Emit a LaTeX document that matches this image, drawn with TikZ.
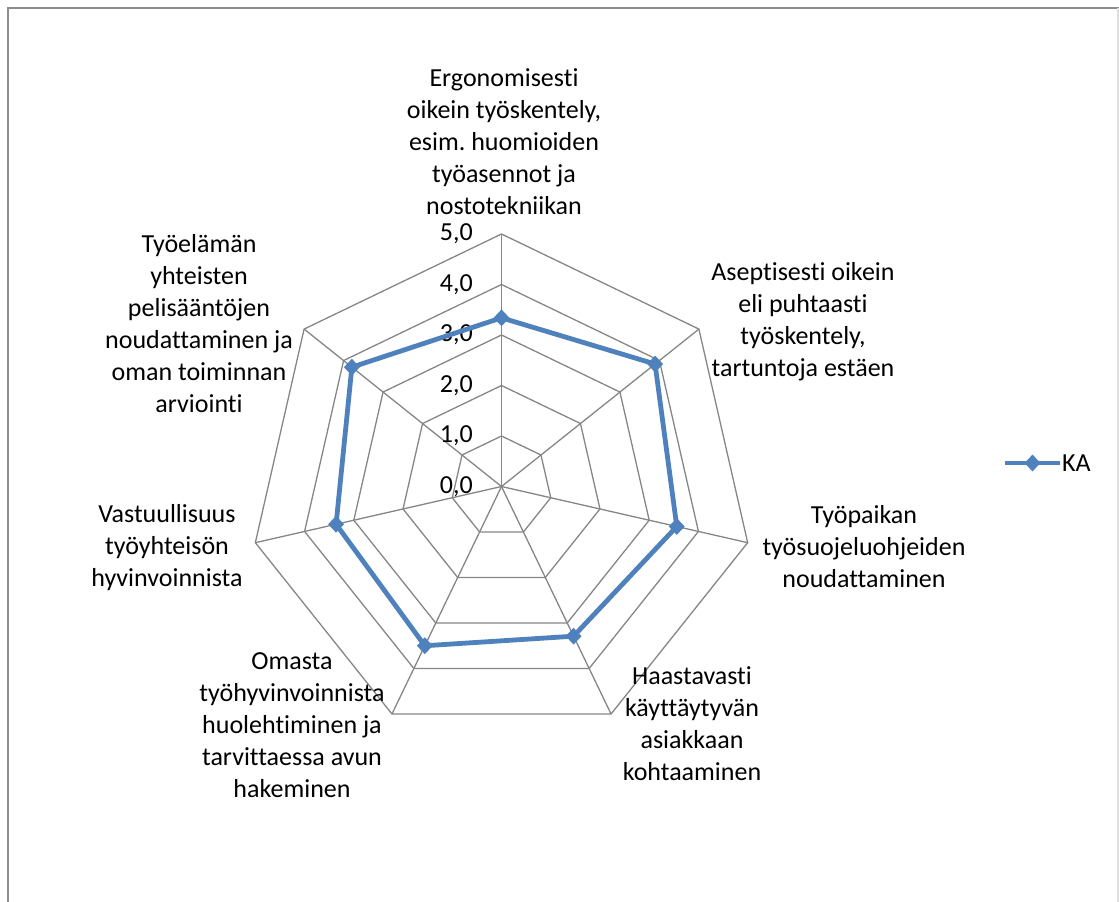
\documentclass[tikz,border=0pt]{standalone}
\usepackage{fontspec}
\setmainfont{Carlito}[Ligatures=NoCommon]
\frenchspacing
\usetikzlibrary{shapes.geometric}
\definecolor{gridgray}{RGB}{134,134,134}
\definecolor{framegray}{RGB}{140,140,140}
\definecolor{serblue}{RGB}{79,129,189}
\tikzset{
  gridline/.style={draw=gridgray, line width=1.3pt},
  serline/.style={draw=serblue, line width=4.8pt, line join=miter},
  lbl/.style={align=center, font=\fontsize{26}{32}\selectfont, inner sep=0pt},
  ticklbl/.style={anchor=east, font=\fontsize{26}{32}\selectfont, inner sep=0pt},
  mk/.style={diamond, fill=serblue, draw=none, inner sep=0pt, minimum width=16pt, minimum height=17pt},
}
\begin{document}
\begin{tikzpicture}[x=1pt,y=1pt]
\useasboundingbox (0,0) rectangle (1119,-902);
% frame
\draw[framegray, line width=2pt] (7.5,-905) -- (7.5,-7.5) -- (1119,-7.5);
\draw[gray!25, line width=1.5pt] (1118,-7.5) -- (1118,-905);
\def\R{50.5}
\coordinate (c) at (501.5,-486.5);
% rings
\foreach \v in {1,...,5}{
  \draw[gridline] ([shift={(c)}]90:{\R*\v})
    \foreach \k in {1,...,6}{ -- ([shift={(c)}]{90-360/7*\k}:{\R*\v}) } -- cycle;
}
% spokes
\foreach \k in {0,...,6}{
  \coordinate (o\k) at ([shift={(c)}]{90-360/7*\k}:{\R*5});
  \draw[gridline] (c) -- (o\k);
}
% tick labels
\foreach \v/\t in {0/{0,0},1/{1,0},2/{2,0},3/{3,0},4/{4,0},5/{5,0}}{
  \node[ticklbl] (t\v) at (473,{-486.5+\R*\v}) {\t};
}
% data
\foreach \k/\v in {0/3.34,1/3.89,2/3.56,3/3.29,4/3.50,5/3.36,6/3.79}{
  \coordinate (d\k) at ([shift={(c)}]{90-360/7*\k}:{\R*\v});
}
\draw[serline] (d0) -- (d1) -- (d2) -- (d3) -- (d4) -- (d5) -- (d6) -- cycle;
\foreach \k in {0,...,6}{
  \node[mk] (m\k) at (d\k) {};
}
% category labels
\node[lbl] (l0) at (504,-141.5) {Ergonomisesti\\oikein työskentely,\\esim. huomioiden\\työasennot ja\\nostotekniikan};
\node[lbl] (l1) at (803,-321.5) {Aseptisesti oikein\\eli puhtaasti\\työskentely,\\tartuntoja estäen};
\node[lbl] (l2) at (864,-547) {Työpaikan\\työsuojeluohjeiden\\noudattaminen};
\node[lbl] (l3) at (692,-724) {Haastavasti\\käyttäytyvän\\asiakkaan\\kohtaaminen};
\node[lbl] (l4) at (292,-725) {Omasta\\työhyvinvoinnista\\huolehtiminen ja\\tarvittaessa avun\\hakeminen};
\node[lbl] (l5) at (167,-548) {Vastuullisuus\\työyhteisön\\hyvinvoinnista};
\node[lbl] (l6) at (199,-324) {Työelämän\\yhteisten\\pelisääntöjen\\noudattaminen ja\\oman toiminnan\\arviointi};
% legend
\coordinate (la) at (1005,-463);
\coordinate (lb) at (1060,-463);
\draw[serline] (la) -- (lb);
\node[mk] (lm) at (1032.5,-463) {};
\node[lbl, anchor=west] (lk) at (1062,-463) {KA};
\end{tikzpicture}
\end{document}
